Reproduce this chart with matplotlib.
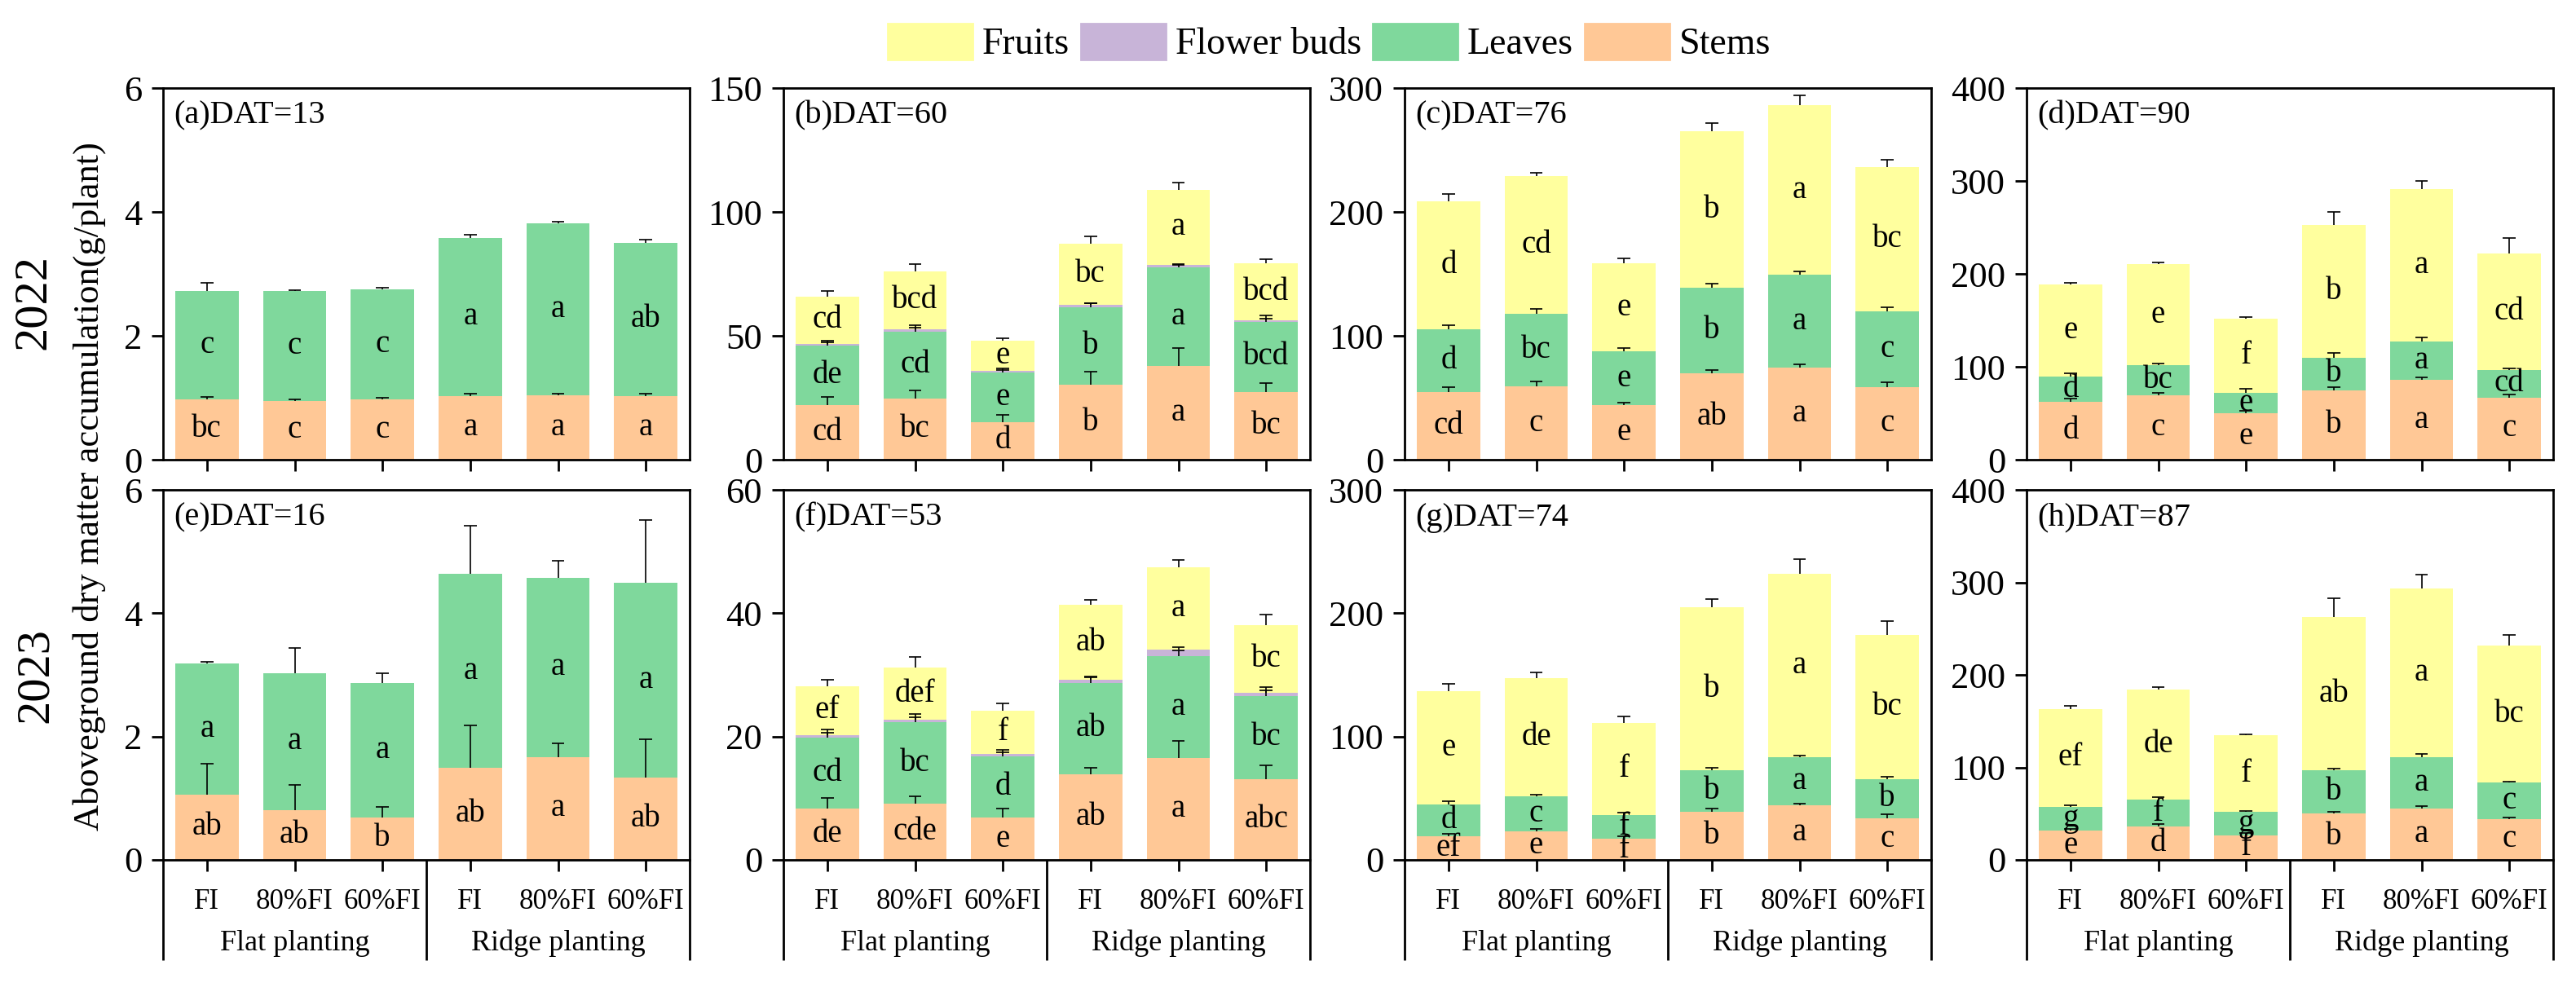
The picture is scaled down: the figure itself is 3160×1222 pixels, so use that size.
import numpy as np
import matplotlib
matplotlib.use('Agg')
import matplotlib.pyplot as plt
from matplotlib.patches import Patch
from matplotlib import transforms

plt.rcParams['font.family'] = ['Liberation Serif', 'DejaVu Serif']

# x categories and groups
categories = ['FI', '80%FI', '60%FI', 'FI', '80%FI', '60%FI']
groups = ['Flat planting', 'Ridge planting']
titles = ['(a)DAT=13', '(b)DAT=60', '(c)DAT=76', '(d)DAT=90',
          '(e)DAT=16', '(f)DAT=53', '(g)DAT=74', '(h)DAT=87']
ymax = [6, 150, 300, 400, 6, 60, 300, 400]
ystep = [2, 50, 100, 100, 2, 20, 100, 100]

# segment values (g/plant), one row per panel a..h
stems = [
    [0.98, 0.95, 0.97, 1.03, 1.04, 1.03],
    [21.9, 24.8, 15.2, 30.2, 37.8, 27.3],
    [54.5, 59.2, 44.0, 69.6, 74.3, 58.6],
    [62.4, 69.3, 49.9, 74.9, 85.9, 67.1],
    [1.06, 0.81, 0.69, 1.49, 1.67, 1.34],
    [8.26, 9.15, 6.86, 13.9, 16.5, 13.1],
    [19.0, 22.9, 17.0, 38.8, 44.1, 34.0],
    [31.6, 35.7, 26.8, 50.6, 55.1, 44.2],
]
stems_err = [
    [0.03, 0.03, 0.03, 0.03, 0.03, 0.03],
    [3.5, 3.3, 3.0, 5.3, 7.3, 3.6],
    [4.0, 4.0, 2.0, 2.6, 3.0, 4.2],
    [3.0, 3.0, 3.0, 3.2, 2.8, 3.0],
    [0.50, 0.41, 0.17, 0.69, 0.22, 0.62],
    [1.8, 1.2, 1.4, 1.0, 2.8, 2.2],
    [2.2, 2.2, 2.0, 2.5, 1.6, 2.8],
    [2.0, 3.0, 2.0, 1.8, 3.0, 1.9],
]
leaves = [
    [1.74, 1.77, 1.78, 2.55, 2.78, 2.47],
    [24.1, 27.0, 20.0, 31.4, 39.9, 28.3],
    [50.6, 58.6, 43.2, 69.3, 75.0, 61.1],
    [27.2, 32.3, 21.9, 34.5, 41.6, 29.1],
    [2.12, 2.22, 2.18, 3.15, 2.90, 3.15],
    [11.54, 13.15, 9.99, 14.8, 16.6, 13.5],
    [25.9, 28.7, 19.3, 33.8, 39.3, 31.3],
    [25.7, 29.1, 24.9, 46.5, 56.1, 39.5],
]
leaves_err = [
    [0.13, 0.02, 0.02, 0.05, 0.02, 0.05],
    [2.0, 2.5, 1.5, 1.5, 1.0, 2.5],
    [3.5, 3.7, 2.8, 3.0, 2.5, 3.0],
    [3.5, 1.6, 4.7, 5.3, 3.8, 2.2],
    [0.03, 0.40, 0.16, 0.78, 0.28, 1.02],
    [1.4, 1.3, 1.0, 1.0, 0.8, 1.4],
    [2.8, 1.4, 1.9, 2.4, 1.4, 2.2],
    [1.5, 2.9, 1.5, 1.8, 3.0, 1.1],
]
buds = [
    [0, 0, 0, 0, 0, 0],
    [0.8, 0.9, 0.7, 0.9, 0.9, 0.7],
    [0, 0, 0, 0, 0, 0],
    [0, 0, 0, 0, 0, 0],
    [0, 0, 0, 0, 0, 0],
    [0.4, 0.4, 0.35, 0.5, 1.05, 0.5],
    [0, 0, 0, 0, 0, 0],
    [0, 0, 0, 0, 0, 0],
]
buds_err = [
    [0, 0, 0, 0, 0, 0],
    [0.5, 0.5, 0.4, 0.5, 0.5, 0.5],
    [0, 0, 0, 0, 0, 0],
    [0, 0, 0, 0, 0, 0],
    [0, 0, 0, 0, 0, 0],
    [0.4, 0.4, 0.3, 0.4, 0.4, 0.4],
    [0, 0, 0, 0, 0, 0],
    [0, 0, 0, 0, 0, 0],
]
fruits = [
    [0, 0, 0, 0, 0, 0],
    [19.0, 23.3, 12.2, 24.6, 30.3, 22.9],
    [103.4, 111.3, 71.2, 126.0, 136.7, 116.5],
    [99.1, 109.0, 79.9, 143.1, 163.3, 126.0],
    [0, 0, 0, 0, 0, 0],
    [8.0, 8.5, 7.0, 12.1, 13.35, 11.0],
    [91.8, 96.0, 74.5, 132.2, 148.4, 116.9],
    [106.0, 119.0, 82.9, 165.1, 182.3, 147.7],
]
fruits_err = [
    [0, 0, 0, 0, 0, 0],
    [2.3, 3.0, 1.0, 3.0, 3.0, 1.8],
    [5.8, 2.5, 4.2, 7.0, 8.0, 6.0],
    [1.5, 1.6, 2.2, 13.8, 9.0, 16.3],
    [0, 0, 0, 0, 0, 0],
    [1.0, 1.7, 1.2, 0.9, 1.1, 1.7],
    [6.2, 4.4, 5.5, 6.9, 12.3, 11.7],
    [3.3, 3.3, 1.5, 20.5, 15.2, 11.9],
]

# significance letters
stems_let = [
    ['bc', 'c', 'c', 'a', 'a', 'a'],
    ['cd', 'bc', 'd', 'b', 'a', 'bc'],
    ['cd', 'c', 'e', 'ab', 'a', 'c'],
    ['d', 'c', 'e', 'b', 'a', 'c'],
    ['ab', 'ab', 'b', 'ab', 'a', 'ab'],
    ['de', 'cde', 'e', 'ab', 'a', 'abc'],
    ['ef', 'e', 'f', 'b', 'a', 'c'],
    ['e', 'd', 'f', 'b', 'a', 'c'],
]
leaves_let = [
    ['c', 'c', 'c', 'a', 'a', 'ab'],
    ['de', 'cd', 'e', 'b', 'a', 'bcd'],
    ['d', 'bc', 'e', 'b', 'a', 'c'],
    ['d', 'bc', 'e', 'b', 'a', 'cd'],
    ['a', 'a', 'a', 'a', 'a', 'a'],
    ['cd', 'bc', 'd', 'ab', 'a', 'bc'],
    ['d', 'c', 'f', 'b', 'a', 'b'],
    ['g', 'f', 'g', 'b', 'a', 'c'],
]
fruits_let = [
    ['', '', '', '', '', ''],
    ['cd', 'bcd', 'e', 'bc', 'a', 'bcd'],
    ['d', 'cd', 'e', 'b', 'a', 'bc'],
    ['e', 'e', 'f', 'b', 'a', 'cd'],
    ['', '', '', '', '', ''],
    ['ef', 'def', 'f', 'ab', 'a', 'bc'],
    ['e', 'de', 'f', 'b', 'a', 'bc'],
    ['ef', 'de', 'f', 'ab', 'a', 'bc'],
]

c_stems = '#FFC896'
c_leaves = '#7FD89C'
c_buds = '#C8B4D8'
c_fruits = '#FFFF9E'

W, H = 3160, 1222
fig = plt.figure(figsize=(W / 200, H / 200), dpi=200)

lefts = [200, 961, 1723, 2486]
axw = 646
rows = [(108, 564), (601, 1055)]

x = np.arange(6)
bw = 0.72
cap = 0.072  # half width of error bar cap, in bar units

for k in range(8):
    r, c = divmod(k, 4)
    top, bot = rows[r]
    ax = fig.add_axes([lefts[c] / W, 1 - bot / H, axw / W, (bot - top) / H])

    base = np.zeros(6)
    layers = [(stems[k], stems_err[k], c_stems, stems_let[k]),
              (leaves[k], leaves_err[k], c_leaves, leaves_let[k]),
              (buds[k], buds_err[k], c_buds, None),
              (fruits[k], fruits_err[k], c_fruits, fruits_let[k])]
    for vals, errs, col, lets in layers:
        vals = np.array(vals, dtype=float)
        if vals.sum() == 0:
            continue
        ax.bar(x, vals, bw, bottom=base, color=col, edgecolor='none', zorder=2)
        tops = base + vals
        ends = tops + np.array(errs)
        # upper half error bars only (T shape)
        ax.vlines(x, tops, ends, color='black', lw=0.6, zorder=3)
        ax.hlines(ends, x - cap, x + cap, color='black', lw=0.6, zorder=3)
        if lets is not None:
            for i in range(6):
                ax.text(x[i], base[i] + vals[i] / 2, lets[i], ha='center', va='center',
                        fontsize=14, zorder=4)
        base = tops

    ax.set_xlim(-0.5, 5.5)
    ax.set_ylim(0, ymax[k])
    ax.set_yticks(np.arange(0, ymax[k] + 0.1, ystep[k]))
    ax.set_xticks(x)
    ax.set_xticklabels([])
    for s in ax.spines.values():
        s.set_linewidth(1.0)
    ax.tick_params(direction='out', length=5, width=1.0, labelsize=16, pad=4.3)
    ax.text(0.02, 0.925, titles[k], transform=ax.transAxes, ha='left', va='center',
            fontsize=14.5)

    if r == 1:
        trans = transforms.blended_transform_factory(ax.transData, ax.transAxes)
        for i in range(6):
            ax.text(x[i], -0.1145, categories[i], transform=trans, ha='center',
                    va='center', fontsize=12.5, clip_on=False)
        ax.text(1, -0.2247, groups[0], transform=trans, ha='center', va='center',
                fontsize=13, clip_on=False)
        ax.text(4, -0.2247, groups[1], transform=trans, ha='center', va='center',
                fontsize=13, clip_on=False)
        for xv in [-0.5, 2.5, 5.5]:
            ax.plot([xv, xv], [0, -0.271], transform=trans, color='black', lw=1.0,
                    clip_on=False, solid_capstyle='butt')

fig.text(0.0348, 0.512, 'Aboveground dry matter accumulation(g/plant)', rotation=90,
         ha='center', va='center', fontsize=16)
fig.text(0.013, 0.697, '2022', rotation=90, ha='center', va='center', fontsize=21)
fig.text(0.0139, 0.3216, '2023', rotation=90, ha='center', va='center', fontsize=21)

handles = [Patch(color=c_fruits, label='Fruits'),
           Patch(color=c_buds, label='Flower buds'),
           Patch(color=c_leaves, label='Leaves'),
           Patch(color=c_stems, label='Stems')]
fig.legend(handles=handles, loc='center', bbox_to_anchor=(0.516, 0.957), ncol=4,
           frameon=False, fontsize=16.5, handlelength=2.27, handleheight=1.09,
           handletextpad=0.26, columnspacing=0.3)

fig.savefig('out.png', dpi=200)
